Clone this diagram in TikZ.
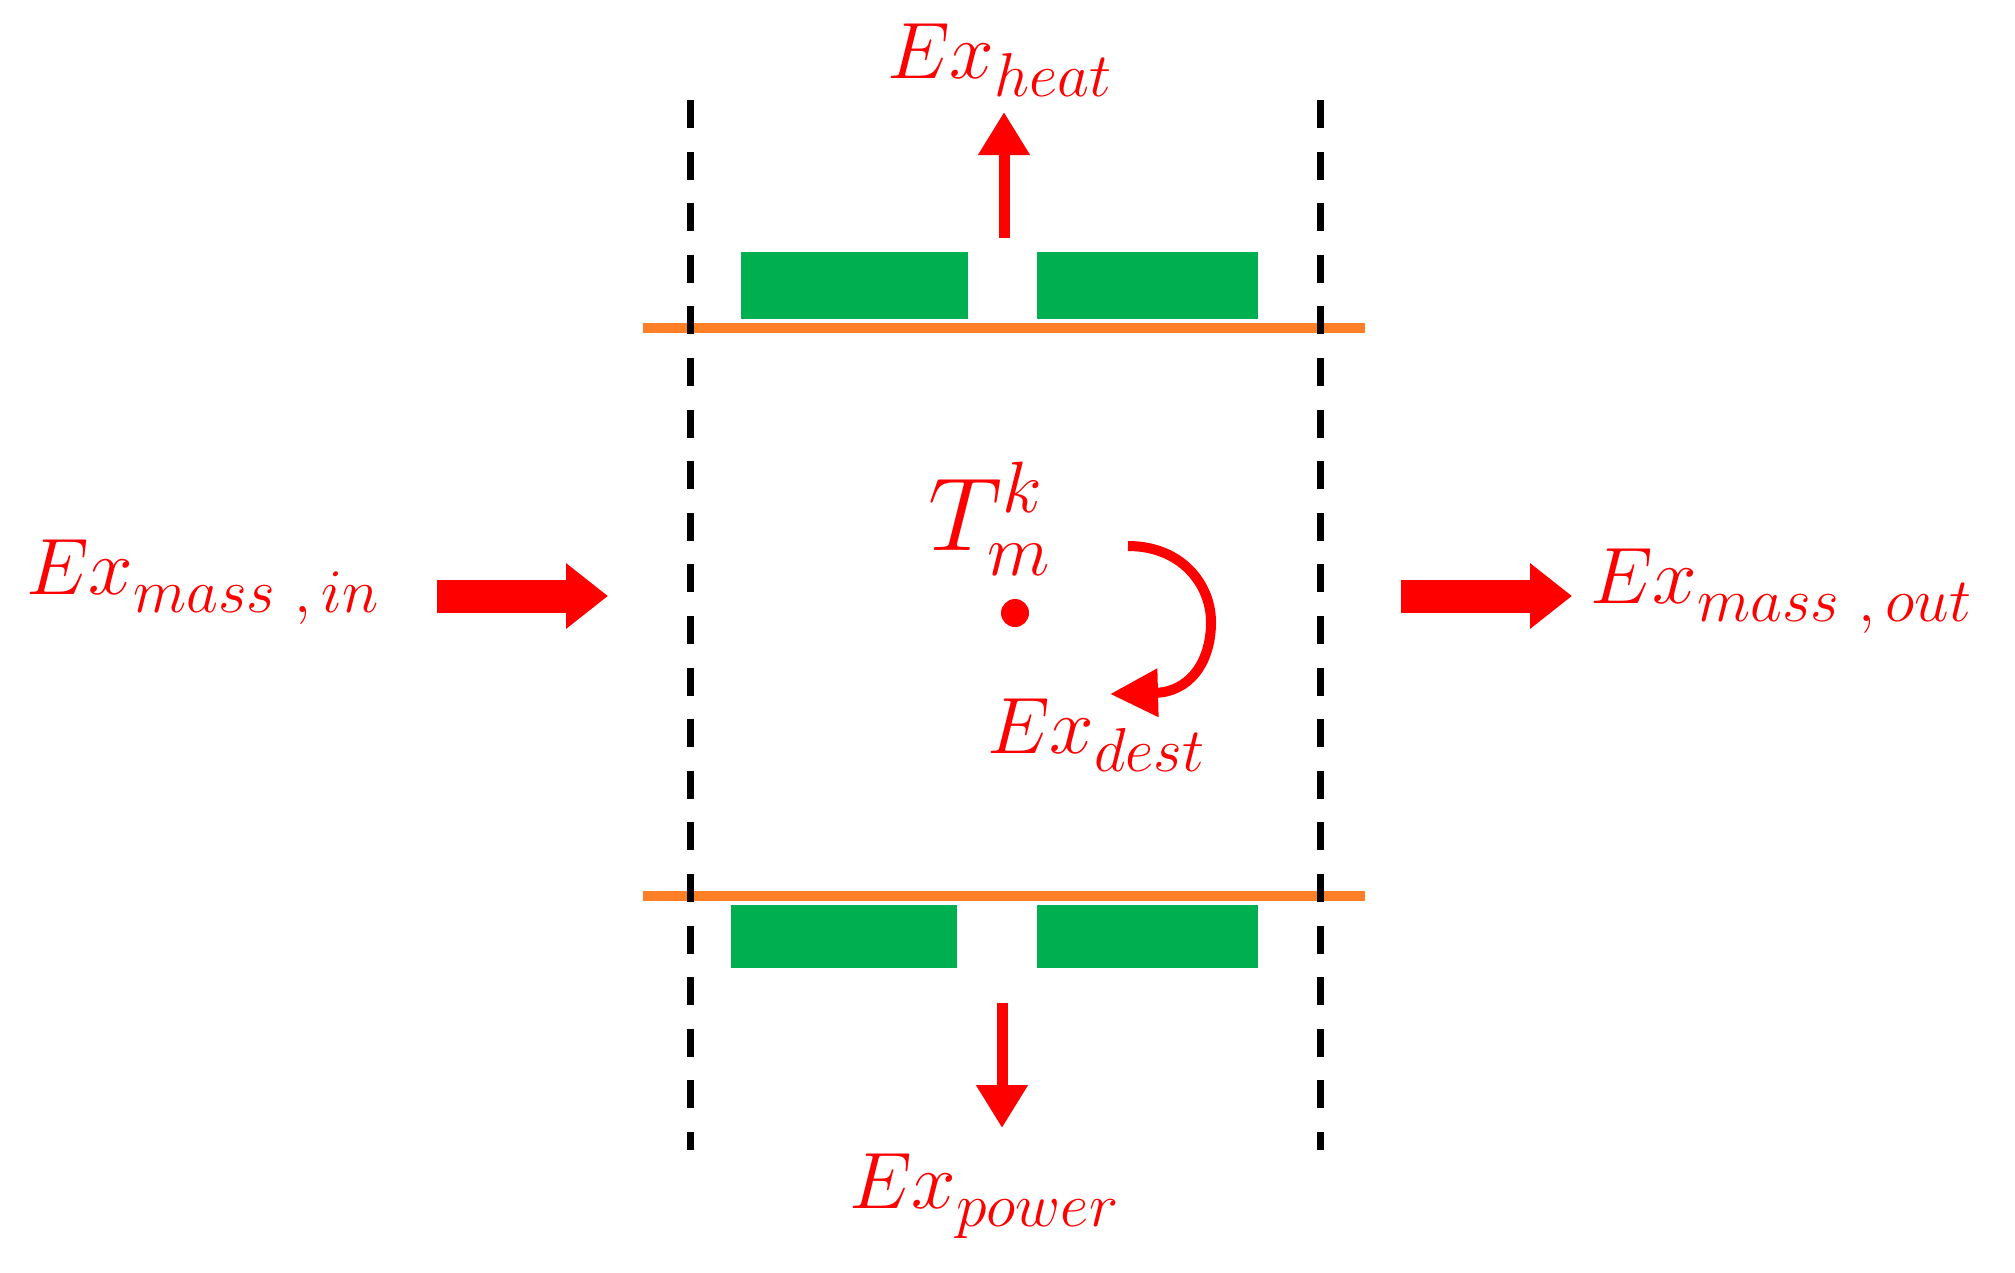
\RequirePackage{fix-cm}
\documentclass[tikz,border=0pt]{standalone}
\usetikzlibrary{arrows.meta}
\definecolor{exred}{RGB}{255,0,0}
\definecolor{wallgreen}{RGB}{0,176,80}
\definecolor{walloran}{RGB}{255,127,39}
\newcommand{\exsub}[1]{\raisebox{-18pt}{\fontsize{62}{62}\selectfont$#1$}}
\begin{document}
\begin{tikzpicture}[x=1pt,y=-1pt,
  lbl/.style={text=exred, inner sep=0pt, anchor=base west, font=\fontsize{80}{96}\selectfont},
  boundary/.style={draw=black, line width=7pt, dash pattern=on 28pt off 23.6pt},
  wall/.style={draw=walloran, line width=10pt},
  fin/.style={fill=wallgreen},
  thinarrow/.style={draw=exred, line width=11pt, -{Triangle[length=43pt,width=49pt]}},
  fatarrow/.style={draw=exred, line width=33pt, -{Triangle[length=42pt,width=63pt]}},
  curvearrow/.style={draw=exred, line width=10pt, -{Triangle[length=48pt,width=46pt]}},
]
\useasboundingbox (0,0) rectangle (2015,1272);

% walls
\draw[wall] (643,328) -- (1365,328);
\draw[wall] (643,896) -- (1365,896);
\fill[fin] (741,252) rectangle (968,319);
\fill[fin] (1037,252) rectangle (1258,319);
\fill[fin] (731,905) rectangle (957,968);
\fill[fin] (1037,905) rectangle (1258,968);

% control volume boundaries
\draw[boundary] (690,100) -- (690,1150);
\draw[boundary] (1320,100) -- (1320,1150);

% labels
\node[lbl] (heat) at (887,78) {$Ex$\exsub{heat}};
\node[lbl] (power) at (849,1208) {$Ex$\exsub{power}};
\node[lbl] (dest) at (987,753) {$Ex$\exsub{dest}};
\node[lbl] (min) at (26,594) {$Ex$\exsub{mass\ ,in}};
\node[lbl] (mout) at (1590,603) {$Ex$\exsub{mass\ ,out}};
\node[lbl, font=\fontsize{104}{120}\selectfont] (tmk) at (928,550) {$T_m^k$};

% node point
\fill[exred] (1015,613) circle[radius=14];
\coordinate (node) at (1015,613);

% arrow end points
\coordinate (heatS) at (1004,238);
\coordinate (heatE) at (1004,112);
\coordinate (powS) at (1002,1003);
\coordinate (powE) at (1002,1128);
\coordinate (inS) at (437,596);
\coordinate (inE) at (608,596);
\coordinate (outS) at (1401,596);
\coordinate (outE) at (1572,596);
\coordinate (dS) at (1128,546);
\coordinate (dE) at (1110,694);

\draw[thinarrow] (heatS) -- (heatE);
\draw[thinarrow] (powS) -- (powE);
\draw[fatarrow] (inS) -- (inE);
\draw[fatarrow] (outS) -- (outE);
\draw[curvearrow] (dS) .. controls (1182,546) and (1211,585) .. (1211,622)
  .. controls (1211,664) and (1188,692) .. (dE);
\end{tikzpicture}
\end{document}
